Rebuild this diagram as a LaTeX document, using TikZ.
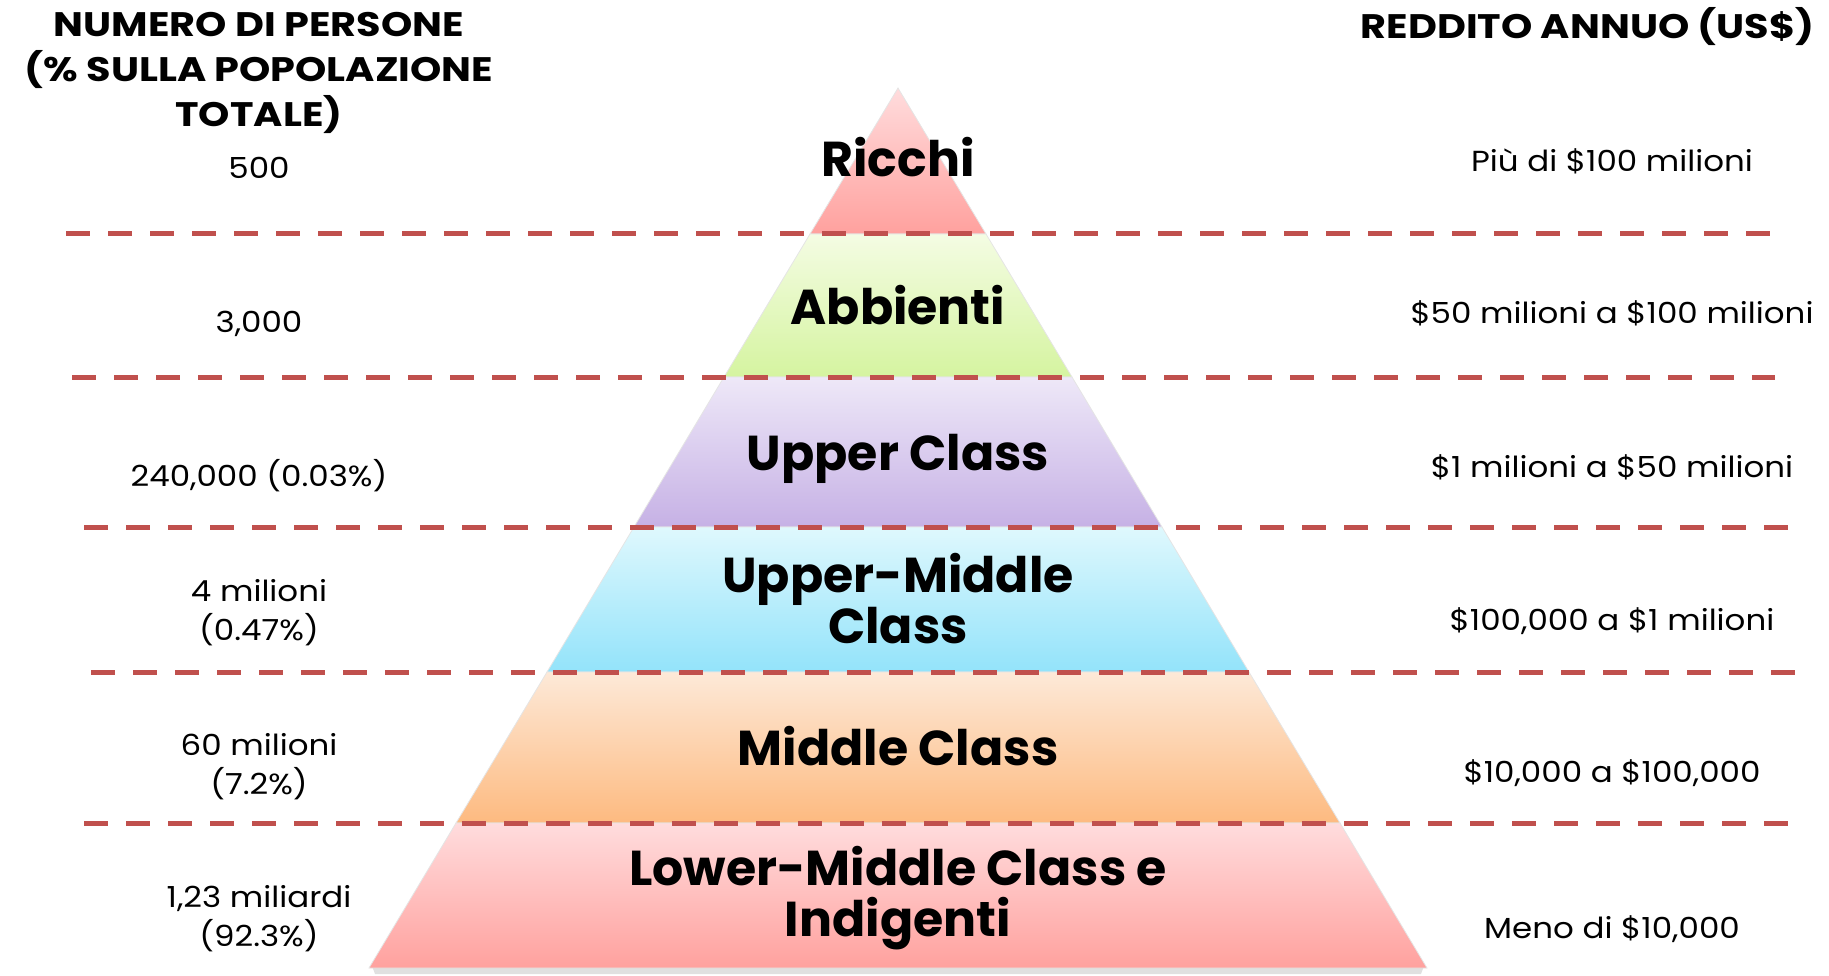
\documentclass[tikz,border=0pt]{standalone}
\usepackage{fontspec}
\setmainfont{Poppins}
\newfontfamily\hdfont[FakeStretch=1.17]{Poppins}
\newfontfamily\valfont[FakeStretch=1.12]{Poppins}
\definecolor{sepred}{HTML}{C0504D}
\definecolor{rA}{HTML}{FFDCDD}\definecolor{rB}{HTML}{FFA19E}
\definecolor{gA}{HTML}{F4FCE3}\definecolor{gB}{HTML}{D5F4A0}
\definecolor{pA}{HTML}{EEE8F8}\definecolor{pB}{HTML}{C6B1E5}
\definecolor{cA}{HTML}{DFF8FD}\definecolor{cB}{HTML}{93E3FA}
\definecolor{oA}{HTML}{FDE9D8}\definecolor{oB}{HTML}{FDBA80}
\definecolor{lA}{HTML}{FFDCDD}\definecolor{lB}{HTML}{FFA19E}
\begin{document}
\begin{tikzpicture}[x=1pt,y=-1pt,
  layer/.style={draw=black!10, line width=0.8pt},
  sep/.style={draw=sepred, line width=5pt, dash pattern=on 24pt off 18pt},
  head/.style={font=\hdfont\fontsize{34}{45}\selectfont\bfseries, align=center},
  val/.style={font=\valfont\fontsize{29}{39}\selectfont, align=center},
  lab/.style={font=\fontsize{49}{51}\selectfont\bfseries, align=center}]
\useasboundingbox (0,0) rectangle (1829,976);
% shadow
\fill[black!12] (372,966) -- (1424,966) -- (1421,974) -- (375,974) -- cycle;
% layers
\shade[layer, top color=rA, bottom color=rB] (898,88) -- (986,234) -- (810,234) -- cycle;
\shade[layer, top color=gA, bottom color=gB] (810,234) -- (986,234) -- (1072,377) -- (724,377) -- cycle;
\shade[layer, top color=pA, bottom color=pB] (724,377) -- (1072,377) -- (1162,527) -- (634,527) -- cycle;
\shade[layer, top color=cA, bottom color=cB] (634,527) -- (1162,527) -- (1249,672) -- (547,672) -- cycle;
\shade[layer, top color=oA, bottom color=oB] (547,672) -- (1249,672) -- (1340,823) -- (456,823) -- cycle;
\shade[layer, top color=lA, bottom color=lB] (456,823) -- (1340,823) -- (1427,968) -- (369,968) -- cycle;
% separators
\draw[sep] (66,234) -- (1773,234);
\draw[sep] (72,377) -- (1775,377);
\draw[sep] (84,527) -- (1788,527);
\draw[sep] (91,672) -- (1796,672);
\draw[sep] (84,823) -- (1788,823);
% headers
\node[head] (hl) at (259,73) {NUMERO DI PERSONE\\(\% SULLA POPOLAZIONE\\TOTALE)};
\node[head, anchor=east] (hr) at (1818,27) {REDDITO ANNUO (US\$)};
% labels
\node[lab] (l1) at (898,157) {Ricchi};
\node[lab] (l2) at (898,305) {Abbienti};
\node[lab] (l3) at (898,459) {Upper Class};
\node[lab] (l4) at (898,599) {Upper-Middle\\Class};
\node[lab] (l5) at (898,746) {Middle Class};
\node[lab] (l6) at (898,898) {Lower-Middle Class e\\Indigenti};
% left values
\node[val] (n1) at (259,168) {500};
\node[val] (n2) at (259,324) {3,000};
\node[val] (n3) at (259,476) {240,000 (0.03\%)};
\node[val] (n4) at (259,613) {4 milioni\\(0.47\%)};
\node[val] (n5) at (259,767) {60 milioni\\(7.2\%)};
\node[val] (n6) at (259,919) {1,23 miliardi\\(92.3\%)};
% right values
\node[val] (r1) at (1612,161) {Più di \$100 milioni};
\node[val] (r2) at (1612,313) {\$50 milioni a \$100 milioni};
\node[val] (r3) at (1612,467) {\$1 milioni a \$50 milioni};
\node[val] (r4) at (1612,621) {\$100,000 a \$1 milioni};
\node[val] (r5) at (1612,773) {\$10,000 a \$100,000};
\node[val] (r6) at (1612,929) {Meno di \$10,000};
\end{tikzpicture}
\end{document}
